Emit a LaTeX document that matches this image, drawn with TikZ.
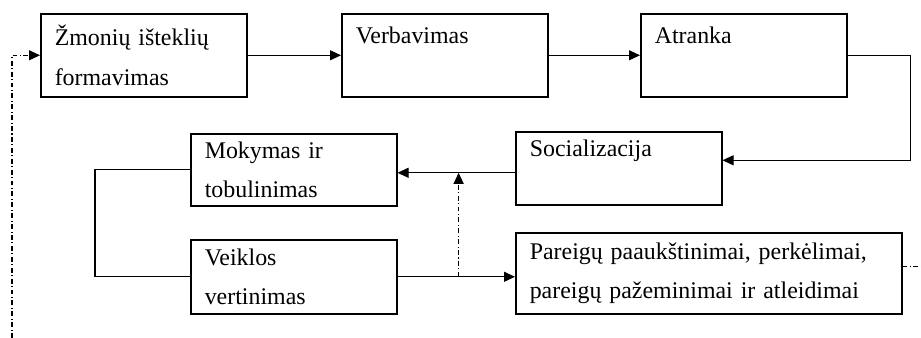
\documentclass[tikz,border=0pt]{standalone}
\usepackage{fontspec}
\setmainfont{Liberation Serif}
\usetikzlibrary{calc, arrows.meta}

\begin{document}
\begin{tikzpicture}[x=0.02cm, y=-0.02cm,
    bx/.style={rectangle, draw, line width=0.9pt, anchor=north west, align=left,
        text width=3.56cm, inner xsep=0.28cm, inner ysep=0pt,
        font=\fontsize{13.6}{22.7}\selectfont},
    ar/.style={line width=0.6pt, -{Triangle[length=0.22cm, width=0.2cm]}},
    dd/.style={line width=0.6pt, dash pattern=on 2.8pt off 1.4pt on 0.6pt off 1.4pt}]
    \useasboundingbox (0,0) rectangle (921,338);

    \draw (40,13)   node[bx, minimum height=1.66cm](zmon){\v{Z}monių išteklių\\formavimas};
    \draw (341,13)  node[bx, minimum height=1.66cm](verb){Verbavimas\\\mbox{}};
    \draw (640,13)  node[bx, minimum height=1.66cm](atr){Atranka\\\mbox{}};
    \draw (515,131) node[bx, minimum height=1.46cm](soc){Socializacija\\\mbox{}};
    \draw (190,133) node[bx, minimum height=1.44cm](mok){Mokymas ir\\tobulinimas};
    \draw (190,239) node[bx, minimum height=1.48cm](veik){Veiklos\\vertinimas};
    \draw (515,232) node[bx, minimum height=1.62cm, text width=7.16cm](par){Pareigų paaukštinimai, perkėlimai,\\pareigų pažeminimai ir atleidimai};

    \coordinate (sm) at ([yshift=-0.09cm]soc.west);
    \coordinate (vp) at ($(veik.east)!0.52!(veik.east -| par.west)$);

    \path[ar] (zmon.east) edge (verb.west);
    \path[ar] (verb.east) edge (atr.west);
    \draw[ar] (atr.east) -- ++(63,0) |- ([yshift=0.16cm]soc.east);
    \draw[ar] (sm) -- (sm -| mok.east);
    \draw[line width=0.6pt] (mok.west) -- ++(-95,0) |- (veik.west);
    \draw[ar] (veik.east) -- (veik.east -| par.west);
    \draw[dd, ar] (vp) -- (vp |- sm);

    % grizimas atgal
    \coordinate (fbl) at (12,338);
    \draw[dd] ([yshift=0.13cm]par.east) -- ++(20,0);
    \draw[dd, ar] (fbl) |- (zmon.west);
\end{tikzpicture}
\end{document}
